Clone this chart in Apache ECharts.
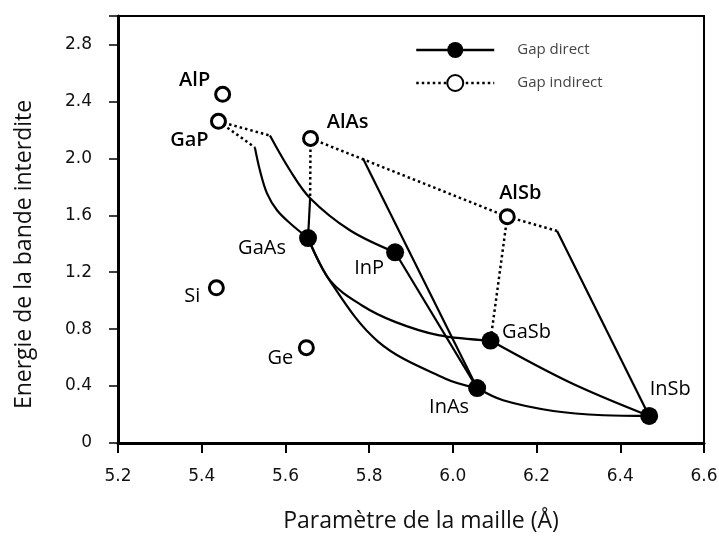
<!DOCTYPE html>
<html>
<head>
<meta charset="utf-8">
<title>Energie de la bande interdite – paramètre de la maille</title>
<script src="https://cdn.jsdelivr.net/npm/echarts@6/dist/echarts.min.js"></script>
<style>
  html, body { margin: 0; padding: 0; background: #fff; }
  #chart { width: 719px; height: 536px; }
</style>
</head>
<body>
<div id="chart"></div>
<script>
// Binary compounds with a direct gap (filled markers)
const directNames = ['GaAs', 'InP', 'GaSb', 'InAs', 'InSb'];
const directLattice = [5.654, 5.862, 6.09, 6.058, 6.469];
const directGap = [1.44, 1.34, 0.72, 0.386, 0.19];

// Compounds / elements with an indirect gap (open markers)
const indirectNames = ['AlP', 'GaP', 'AlAs', 'AlSb', 'Si', 'Ge'];
const indirectLattice = [5.45, 5.44, 5.66, 6.13, 5.435, 5.65];
const indirectGap = [2.45, 2.26, 2.14, 1.59, 1.09, 0.67];

// Ternary alloy curves [lattice constant, gap]; indirect parts are dotted
const gapGaPGaAsIndirect = [[5.44, 2.26], [5.527, 2.077]];
const gapGaPGaAsDirect = [[5.527, 2.077], [5.539, 1.916], [5.556, 1.754], [5.58, 1.635], [5.611, 1.544], [5.654, 1.44]];
const gapGaPInPIndirect = [[5.44, 2.26], [5.563, 2.16]];
const gapGaPInPDirect = [[5.563, 2.16], [5.61, 1.92], [5.659, 1.72], [5.754, 1.495], [5.862, 1.34]];
const gapAlAsGaAsIndirect = [[5.66, 2.14], [5.659, 1.72]];
const gapAlAsGaAsDirect = [[5.659, 1.72], [5.654, 1.44]];
const gapAlAsAlSbIndirect = [[5.66, 2.14], [6.13, 1.59]];
const gapAlAsInAsDirect = [[5.785, 2.0], [6.058, 0.386]];
const gapAlSbInSbIndirect = [[6.13, 1.59], [6.249, 1.49]];
const gapAlSbInSbDirect = [[6.249, 1.49], [6.469, 0.19]];
const gapAlSbGaSbIndirect = [[6.13, 1.59], [6.09, 0.72]];
const gapInPInAs = [[5.862, 1.34], [6.058, 0.386]];
const gapGaAsGaSb = [[5.654, 1.44], [5.706, 1.144], [5.782, 0.968], [5.862, 0.851], [5.965, 0.758], [6.09, 0.72]];
const gapGaAsInAs = [[5.654, 1.44], [5.706, 1.14], [5.822, 0.711], [5.981, 0.454], [6.058, 0.386]];
const gapGaSbInSb = [[6.09, 0.72], [6.28, 0.425], [6.469, 0.19]];
const gapInAsInSb = [[6.058, 0.386], [6.12, 0.30], [6.24, 0.225], [6.36, 0.195], [6.469, 0.19]];

// Axis ticks
const xTickStep = 0.2;
const yTickStep = 0.4;

// Label placement around each marker (pixels from the marker centre)
const labelOffset = {
  AlP: [-28, -14], GaP: [-29, 19], AlAs: [37, -16], AlSb: [13, -23],
  GaAs: [-46, 10], InP: [-26, 16], GaSb: [36, -8], InAs: [-28, 19],
  InSb: [21, -27], Si: [-24, 8], Ge: [-26, 11]
};
const boldLabels = ['AlP', 'GaP', 'AlAs', 'AlSb'];

const labelFont = 'Open Sans';

function curve(points, dotted) {
  return {
    type: 'line',
    data: points,
    smooth: points.length > 2 ? 0.35 : false,
    symbol: 'none',
    silent: true,
    z: 2,
    lineStyle: {
      color: '#000',
      width: dotted ? 2.5 : 2.2,
      type: dotted ? [2.5, 3] : 'solid'
    }
  };
}

function markerData(names, xs, ys) {
  return names.map((n, i) => ({
    name: n,
    value: [xs[i], ys[i]],
    label: {
      show: true,
      formatter: n,
      position: 'inside',
      offset: labelOffset[n],
      fontFamily: labelFont,
      fontSize: 20,
      fontWeight: boldLabels.includes(n) ? 600 : 'normal',
      color: '#000'
    }
  }));
}

const chart = echarts.init(document.getElementById('chart'), null, { renderer: 'canvas' });

const option = {
  animation: false,
  backgroundColor: '#fff',
  grid: {
    left: 118, right: 15, top: 16, bottom: 93,
    outerBoundsMode: 'none',
    containLabel: false,
    show: true, borderColor: '#000', borderWidth: 2
  },
  legend: {
    orient: 'vertical',
    left: 410,
    top: 37,
    itemWidth: 78,
    itemHeight: 20,
    itemGap: 16,
    textStyle: {
      fontFamily: labelFont,
      fontSize: 15,
      color: '#444',
      padding: [0, 0, 0, 18]
    },
    data: [
      { name: 'Gap direct', lineStyle: { color: '#000', width: 2.5, type: 'solid', opacity: 1 } },
      { name: 'Gap indirect', lineStyle: { color: '#000', width: 2.5, type: [2.5, 3], opacity: 1 } }
    ]
  },
  xAxis: {
    type: 'value',
    min: 5.2, max: 6.6, interval: xTickStep,
    name: 'Paramètre de la maille (Å)',
    nameLocation: 'middle',
    nameGap: 67,
    nameTextStyle: { fontFamily: labelFont, fontSize: 23, color: '#111', padding: [0, 0, 0, 20] },
    axisLine: { show: true, lineStyle: { color: '#000', width: 3 } },
    axisTick: { show: true, length: 10, lineStyle: { color: '#000', width: 2 } },
    axisLabel: {
      margin: 25,
      fontFamily: 'DejaVu Sans', fontSize: 17, color: '#111',
      formatter: v => v.toFixed(1)
    },
    splitLine: { show: false }
  },
  yAxis: {
    type: 'value',
    min: 0, max: 3.0, interval: yTickStep,
    name: 'Energie de la bande interdite',
    nameLocation: 'middle',
    nameGap: 82,
    nameTextStyle: { fontFamily: labelFont, fontSize: 23, color: '#111', padding: [0, 50, 0, 0] },
    axisLine: { show: true, lineStyle: { color: '#000', width: 3 } },
    axisTick: { show: true, length: 9, lineStyle: { color: '#000', width: 1.5 } },
    axisLabel: {
      margin: 26,
      fontFamily: 'DejaVu Sans', fontSize: 17, color: '#111',
      formatter: v => (v === 0 ? '0' : (v > 2.9 ? '' : v.toFixed(1)))
    },
    splitLine: { show: false }
  },
  series: [
    curve(gapGaPGaAsIndirect, true),
    curve(gapGaPGaAsDirect, false),
    curve(gapGaPInPIndirect, true),
    curve(gapGaPInPDirect, false),
    curve(gapAlAsGaAsIndirect, true),
    curve(gapAlAsGaAsDirect, false),
    curve(gapAlAsAlSbIndirect, true),
    curve(gapAlAsInAsDirect, false),
    curve(gapAlSbInSbIndirect, true),
    curve(gapAlSbInSbDirect, false),
    curve(gapAlSbGaSbIndirect, true),
    curve(gapInPInAs, false),
    curve(gapGaAsGaSb, false),
    curve(gapGaAsInAs, false),
    curve(gapGaSbInSb, false),
    curve(gapInAsInSb, false),
    {
      name: 'Gap direct',
      type: 'line',
      data: markerData(directNames, directLattice, directGap),
      symbol: 'circle',
      symbolSize: 18,
      showSymbol: true,
      z: 4,
      itemStyle: { color: '#000', borderColor: '#000', borderWidth: 0 },
      lineStyle: { opacity: 0, width: 0 }
    },
    {
      name: 'Gap indirect',
      type: 'line',
      data: markerData(indirectNames, indirectLattice, indirectGap),
      symbol: 'circle',
      symbolSize: 14,
      showSymbol: true,
      z: 4,
      itemStyle: { color: '#fff', borderColor: '#000', borderWidth: 3 },
      lineStyle: { opacity: 0, width: 0 }
    }
  ]
};

chart.setOption(option);
</script>
</body>
</html>
